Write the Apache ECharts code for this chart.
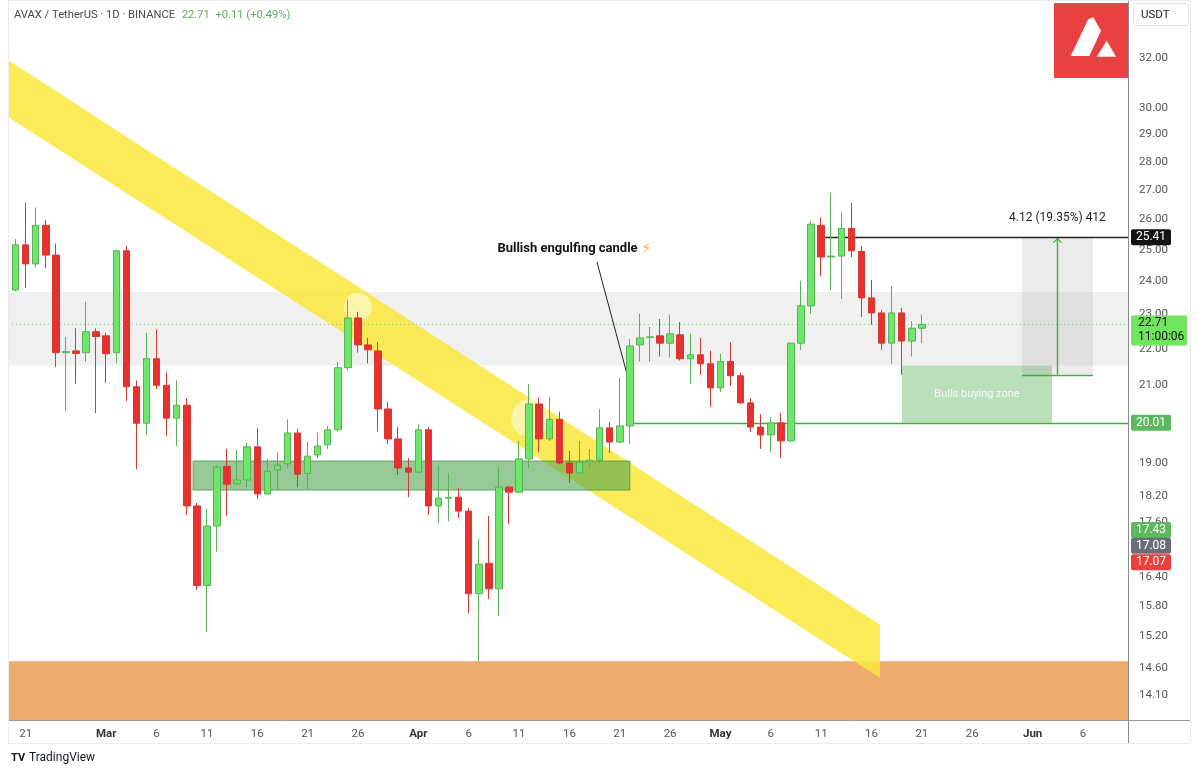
<!DOCTYPE html>
<html><head><meta charset="utf-8">
<script src="https://cdn.jsdelivr.net/npm/echarts@6/dist/echarts.min.js"></script>
<style>html,body{margin:0;padding:0;background:#fff}#chart{width:1200px;height:775px}</style>
</head><body><div id="chart"></div>
<script>
// ---- data ----
const startDate = '2025-02-19';
const opens = [
  23.50,23.74,25.16,24.55,25.80,24.83,21.90,21.95,21.90,22.50,
  22.38,21.90,24.97,20.96,20.00,21.73,21.00,20.13,20.47,17.98,
  16.23,17.52,18.92,18.50,18.59,19.40,18.26,18.83,18.98,19.75,
  18.75,19.20,19.45,19.83,21.48,22.90,22.12,21.95,20.37,19.60,
  18.88,18.78,19.83,17.98,18.16,18.18,17.86,16.06,16.70,16.16,
  18.42,18.30,19.10,20.50,19.60,20.10,19.00,18.76,19.02,19.07,
  19.88,19.52,19.93,22.12,22.33,22.38,22.17,22.41,21.73,21.84,
  21.59,20.93,21.65,21.26,20.53,19.90,19.70,20.01,19.55,22.17,
  23.26,25.80,24.77,24.80,25.70,24.95,23.50,23.05,22.17,23.05,
  22.23,22.60];
const closes = [
  23.80,25.16,24.55,25.80,24.83,21.90,21.93,21.88,22.50,22.36,
  21.87,24.97,20.96,20.00,21.73,21.00,20.13,20.47,17.98,16.23,
  17.52,18.90,18.49,18.59,19.40,18.26,18.80,18.95,19.75,18.73,
  19.17,19.42,19.83,21.48,22.90,22.12,21.98,20.37,19.60,18.88,
  18.78,19.83,17.98,18.16,18.18,17.86,16.06,16.68,16.16,18.42,
  18.30,19.10,20.50,19.60,20.10,19.00,18.76,19.02,19.07,19.88,
  19.52,19.93,22.09,22.32,22.35,22.17,22.44,21.73,21.84,21.59,
  20.93,21.65,21.26,20.53,19.90,19.70,20.01,19.55,22.17,23.26,
  25.84,24.77,24.80,25.70,24.97,23.50,23.05,22.17,23.05,22.23,
  22.60,22.71];
const lows = [
  23.30,23.70,23.80,24.45,24.42,21.50,20.32,21.04,21.65,20.26,
  21.07,21.60,20.58,18.85,19.70,20.90,19.67,19.42,17.77,16.14,
  15.29,16.95,17.75,18.48,18.42,18.14,18.25,18.35,18.88,18.42,
  18.37,19.12,19.35,19.78,21.40,21.90,21.60,19.78,19.47,18.71,
  18.18,18.76,17.77,17.59,17.63,17.70,15.66,14.72,15.95,15.60,
  17.57,18.28,18.88,19.27,19.55,18.98,18.52,18.74,18.88,19.00,
  19.25,19.50,19.47,21.65,21.65,21.79,21.76,21.68,21.04,21.28,
  20.42,20.82,20.98,20.50,19.78,19.35,19.27,19.12,19.52,21.98,
  23.02,24.17,23.74,23.47,24.77,22.93,22.70,21.98,21.59,21.28,
  21.79,22.17];
const highs = [
  24.00,25.35,26.56,26.40,25.98,25.20,22.35,22.60,23.38,22.60,
  22.47,25.00,25.13,21.13,22.47,22.57,21.35,21.13,20.66,18.05,
  17.91,18.95,19.35,19.32,19.50,19.88,19.10,19.27,20.10,19.85,
  19.52,19.75,19.93,21.64,23.44,23.08,22.32,22.20,20.55,19.90,
  19.12,19.96,19.90,18.95,18.76,18.40,17.93,17.23,17.75,18.90,
  18.45,19.55,21.04,20.68,20.68,20.30,19.30,19.55,19.35,20.37,
  20.03,21.20,22.29,23.03,22.64,22.87,23.00,22.78,22.44,22.32,
  21.95,21.87,22.20,21.34,20.66,20.24,20.16,20.27,22.19,24.02,
  25.94,26.06,26.90,26.24,26.56,25.13,24.05,23.14,23.86,23.20,
  22.81,23.00];

const yTicks = [32, 30, 29, 28, 27, 26, 25, 24, 23, 22, 21, 19, 18.2, 17.6, 16.4, 15.8, 15.2, 14.6, 14.1];
const xTickDates = ['2025-02-21','2025-03-01','2025-03-06','2025-03-11','2025-03-16','2025-03-21','2025-03-26',
  '2025-04-01','2025-04-06','2025-04-11','2025-04-16','2025-04-21','2025-04-26',
  '2025-05-01','2025-05-06','2025-05-11','2025-05-16','2025-05-21','2025-05-26','2025-06-01','2025-06-06'];
const monthNames = ['Jan','Feb','Mar','Apr','May','Jun','Jul','Aug','Sep','Oct','Nov','Dec'];

// annotation levels (day index from startDate, price)
const viewDays = [0.248, 111.47];
const viewPrice = [13.65, 34.48];
const resistanceZone = [21.54, 23.68];
const demandTop = 14.72;
const supportZone = [18.62, 62.0, 18.35, 19.05];
const trendBand = [[0.248, 31.92], [0.248, 29.66], [86.84, 14.41], [86.84, 15.43]];
const touchPoints = [[35.0, 23.23], [52.1, 20.13]];
const breakoutLevel = [62.0, 20.01];
const targetLevel = [81.4, 25.41];
const bullsZone = [89.03, 103.92, 20.01, 21.54];
const measure = [100.94, 107.99, 21.29, 25.41, 104.42];
const engulfLabel = [56.5, 25.03];
const engulfPointer = [[58.74, 24.61], [61.82, 21.2]];
const axisMarks = [25.41, 20.01, 17.43, 17.08, 17.07];

// ---- helpers ----
const DAY = 86400000;
const t0 = Date.parse(startDate + 'T00:00:00Z');
const dayIndex = s => Math.round((Date.parse(s + 'T00:00:00Z') - t0) / DAY);
const candles = opens.map((o, i) => [i, Math.log(o), Math.log(closes[i]), Math.log(lows[i]), Math.log(highs[i])]);
const last = closes[closes.length - 1], prev = closes[closes.length - 2];
const chg = last - prev, pct = chg / prev * 100;

const chart = echarts.init(document.getElementById('chart'), null, {renderer: 'canvas'});

const GREEN_LINE = '#3fae3f';

function renderBg(params, api) {
  const cs = params.coordSys;
  const L = cs.x, R = cs.x + cs.width, B = cs.y + cs.height;
  const P = (d, p) => api.coord([d, Math.log(p)]);
  const Y = p => P(50, p)[1];
  const X = d => P(d, 20)[0];
  const hline = (x1, x2, y, color) => ({type: 'rect', shape: {x: x1, y: Math.round(y) - 0.2, width: x2 - x1, height: 1.4}, style: {fill: color}});
  const ch = [];
  ch.push({type: 'rect', shape: {x: L, y: Y(resistanceZone[1]), width: R - L, height: Y(resistanceZone[0]) - Y(resistanceZone[1])}, style: {fill: '#f0f0f0'}});
  ch.push({type: 'rect', shape: {x: L, y: Y(demandTop), width: R - L, height: B - Y(demandTop)}, style: {fill: '#edab6e'}});
  ch.push({type: 'polygon', shape: {points: trendBand.map(([d, p]) => P(d, p))}, style: {fill: 'rgba(250,232,60,0.85)'}});
  const radii = [14, 19];
  touchPoints.forEach(([d, p], i) => {
    const c = P(d, p);
    ch.push({type: 'circle', shape: {cx: c[0], cy: c[1], r: radii[i]}, style: {fill: 'rgba(255,255,255,0.5)'}});
  });
  const sz1 = P(supportZone[0], supportZone[3]), sz2 = P(supportZone[1], supportZone[2]);
  ch.push({type: 'rect', shape: {x: sz1[0], y: sz1[1], width: sz2[0] - sz1[0], height: sz2[1] - sz1[1]}, style: {fill: 'rgba(80,165,80,0.6)', stroke: 'rgba(60,140,60,0.7)', lineWidth: 1}});
  ch.push({type: 'line', shape: {x1: L, y1: Y(last), x2: R, y2: Y(last)}, style: {stroke: '#7fd47f', lineWidth: 1, lineDash: [1, 3]}});
  const bl = P(breakoutLevel[0], breakoutLevel[1]);
  ch.push(hline(bl[0], R, bl[1], GREEN_LINE));
  const b1 = P(bullsZone[0], bullsZone[3]), b2 = P(bullsZone[1], bullsZone[2]);
  ch.push({type: 'rect', shape: {x: b1[0], y: b1[1], width: b2[0] - b1[0], height: b2[1] - b1[1]}, style: {fill: 'rgba(120,190,120,0.5)'}});
  ch.push({type: 'text', x: (b1[0] + b2[0]) / 2, y: (b1[1] + b2[1]) / 2, style: {text: 'Bulls buying zone', fill: 'rgba(255,255,255,0.85)', font: '11px Roboto', align: 'center', verticalAlign: 'middle'}});
  const m1 = P(measure[0], measure[3]), m2 = P(measure[1], measure[2]);
  ch.push({type: 'rect', shape: {x: m1[0], y: m1[1], width: m2[0] - m1[0], height: m2[1] - m1[1]}, style: {fill: 'rgba(150,150,150,0.18)'}});
  ch.push(hline(m1[0], m2[0], m2[1], GREEN_LINE));
  const ax = Math.round(X(measure[4]));
  ch.push({type: 'rect', shape: {x: ax - 0.2, y: m1[1] + 1, width: 1.4, height: m2[1] - m1[1] - 1}, style: {fill: GREEN_LINE}});
  ch.push({type: 'polyline', shape: {points: [[ax - 3.5, m1[1] + 5.5], [ax + 0.5, m1[1] + 1.5], [ax + 4.5, m1[1] + 5.5]]}, style: {stroke: GREEN_LINE, lineWidth: 1.2, fill: null}});
  const ml = (measure[3] - measure[2]);
  ch.push({type: 'text', x: (m1[0] + m2[0]) / 2, y: m1[1] - 19, style: {text: ml.toFixed(2) + ' (' + (ml / measure[2] * 100).toFixed(2) + '%) ' + Math.round(ml * 100), fill: '#1e1e1e', font: '12px Roboto', align: 'center', verticalAlign: 'middle'}});
  const tl = P(targetLevel[0], targetLevel[1]);
  ch.push(hline(tl[0], R, tl[1], '#222'));
  const e1 = P(engulfPointer[0][0], engulfPointer[0][1]), e2 = P(engulfPointer[1][0], engulfPointer[1][1]);
  ch.push({type: 'line', shape: {x1: e1[0], y1: e1[1], x2: e2[0], y2: e2[1]}, style: {stroke: '#222', lineWidth: 1}});
  const el = P(engulfLabel[0], engulfLabel[1]);
  ch.push({type: 'text', x: el[0], y: el[1], style: {text: '{a|Bullish engulfing candle} {b|⚡}', align: 'center', verticalAlign: 'middle',
    rich: {a: {fill: '#111', font: 'bold 13px Roboto'}, b: {fill: '#f4b22e', font: '15px "DejaVu Sans"'}}}});
  return {type: 'group', children: ch};
}

function renderFg(params, api) {
  const cs = params.coordSys;
  const R = cs.x + cs.width;
  const Y = p => api.coord([50, Math.log(p)])[1];
  const bx = R + 3;
  const ch = [];
  const styles = [
    {bg: '#131313', fg: '#fff', dy: 0},
    {bg: '#5cb85c', fg: '#fff', dy: 0},
    {bg: '#5cb85c', fg: '#fff', dy: 0},
    {bg: '#6b6e78', fg: '#fff', dy: 0},
    {bg: '#e8403a', fg: '#fff', dy: 16}
  ];
  axisMarks.forEach((p, i) => {
    const s = styles[i];
    const y = Y(p) + s.dy;
    ch.push({type: 'rect', shape: {x: bx, y: y - 8, width: 40, height: 16, r: 2}, style: {fill: s.bg}});
    ch.push({type: 'text', x: bx + 20, y: y, style: {text: p.toFixed(2), fill: s.fg, font: '12px Roboto', align: 'center', verticalAlign: 'middle'}});
  });
  const yl = Y(last);
  ch.push({type: 'rect', shape: {x: bx, y: yl - 9, width: 56, height: 30, r: 2}, style: {fill: '#6fe65d'}});
  ch.push({type: 'text', x: bx + 7, y: yl - 1, style: {text: last.toFixed(2), fill: '#111', font: '12px Roboto', align: 'left', verticalAlign: 'middle'}});
  ch.push({type: 'text', x: bx + 7, y: yl + 13, style: {text: '11:00:06', fill: '#111', font: '12px Roboto', align: 'left', verticalAlign: 'middle'}});
  return {type: 'group', children: ch};
}

const option = {
  animation: false,
  backgroundColor: '#ffffff',
  grid: {left: 8, right: 72, top: 0, bottom: 55, outerBoundsMode: 'none', containLabel: false},
  xAxis: {
    type: 'value', min: viewDays[0], max: viewDays[1],
    axisLine: {show: true, lineStyle: {color: '#9a9a9a', width: 1}},
    axisTick: {show: false}, splitLine: {show: false},
    axisLabel: {
      customValues: xTickDates.map(dayIndex), margin: 8,
      color: '#555', fontSize: 11.5, fontFamily: 'Roboto',
      formatter: v => {
        const d = new Date(t0 + Math.round(v) * DAY);
        return d.getUTCDate() === 1 ? '{m|' + monthNames[d.getUTCMonth()] + '}' : String(d.getUTCDate());
      },
      rich: {m: {fontWeight: 'bold', color: '#333', fontSize: 11.5, fontFamily: 'Roboto'}}
    }
  },
  yAxis: {
    type: 'value', position: 'right', min: Math.log(viewPrice[0]), max: Math.log(viewPrice[1]), scale: true,
    axisLine: {show: true, lineStyle: {color: '#8a8a8a', width: 1}},
    axisTick: {show: false}, splitLine: {show: false},
    axisLabel: {
      customValues: yTicks.map(v => Math.log(v)), margin: 11,
      color: '#555', fontSize: 11.5, fontFamily: 'Roboto',
      formatter: v => Math.exp(v).toFixed(2)
    }
  },
  series: [
    {type: 'custom', name: 'drawings', z: 1, data: [[50, 3]], renderItem: renderBg, silent: true, clip: false},
    {
      type: 'candlestick', name: 'AVAXUSDT', z: 3, data: candles, barWidth: 7,
      encode: {x: 0, y: [1, 2, 3, 4]},
      itemStyle: {color: '#6fe66a', color0: '#e8302c', borderColor: '#58b258', borderColor0: '#d43a34', borderWidth: 1},
      emphasis: {disabled: true}
    },
    {type: 'custom', name: 'priceTags', z: 5, data: [[50, 3]], renderItem: renderFg, silent: true, clip: false}
  ],
  graphic: [
    {type: 'rect', z: 100, shape: {x: 0, y: 0, width: 8, height: 745}, style: {fill: '#fff'}},
    {type: 'rect', z: 101, shape: {x: 8.5, y: 0.5, width: 1182, height: 743}, style: {fill: null, stroke: '#ececec', lineWidth: 1}},
    {type: 'line', shape: {x1: 1128, y1: 720.5, x2: 1190, y2: 720.5}, style: {stroke: '#9a9a9a', lineWidth: 1}},
    {type: 'line', shape: {x1: 1128.5, y1: 720, x2: 1128.5, y2: 743}, style: {stroke: '#8a8a8a', lineWidth: 1}},
    {type: 'text', x: 14, y: 15, style: {
      text: '{a|AVAX / TetherUS · 1D · BINANCE}  {b|' + last.toFixed(2) + '  ' + (chg >= 0 ? '+' : '') + chg.toFixed(2) + ' (' + (pct >= 0 ? '+' : '') + pct.toFixed(2) + '%)}',
      verticalAlign: 'middle',
      rich: {a: {fill: '#4a4a4a', font: '11.2px Roboto'}, b: {fill: '#5fae5f', font: '11.2px Roboto'}}}},
    {type: 'rect', shape: {x: 1133.5, y: 3.5, width: 55, height: 22, r: 2}, style: {fill: '#fff', stroke: '#e4e4e4', lineWidth: 1}},
    {type: 'text', x: 1141, y: 15, style: {text: 'USDT', fill: '#222', font: '11.5px Roboto', verticalAlign: 'middle'}},
    {type: 'rect', shape: {x: 1054, y: 3, width: 74, height: 75}, style: {fill: '#e84142'}},
    {type: 'polygon', shape: {points: [[1070.7, 56], [1088.3, 19.3], [1093.3, 17.3], [1101, 30.7], [1089.3, 56]]}, style: {fill: '#fff'}},
    {type: 'polygon', shape: {points: [[1096.7, 56.7], [1106.7, 40.7], [1116, 56.7]]}, style: {fill: '#fff'}},
    {type: 'text', x: 11, y: 758, style: {text: 'TV', fill: '#131722', font: 'bold 11px Roboto', verticalAlign: 'middle'}},
    {type: 'text', x: 29, y: 758, style: {text: 'TradingView', fill: '#131722', font: '12px Roboto', verticalAlign: 'middle'}}
  ]
};
chart.setOption(option);
</script>
</body></html>
